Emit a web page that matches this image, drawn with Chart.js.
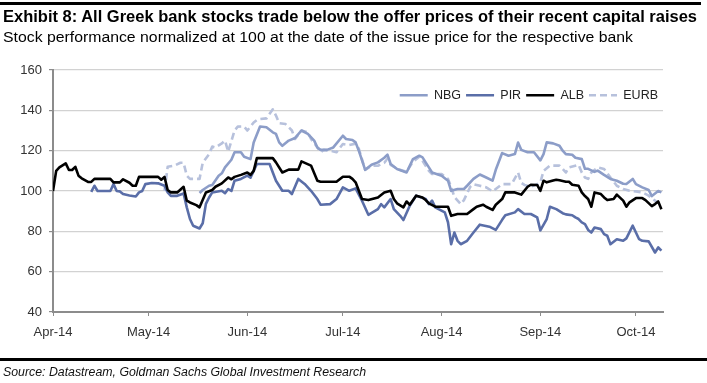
<!DOCTYPE html>
<html>
<head>
<meta charset="utf-8">
<script src="https://cdn.jsdelivr.net/npm/chart.js@4.4.1/dist/chart.umd.min.js"></script>
<style>
  html, body { margin: 0; padding: 0; background: #fff; }
  #wrap { position: relative; width: 707px; height: 383px; overflow: hidden; }
  #chart { position: absolute; left: 0; top: 0; }
  .txt { position: absolute; left: 3px; white-space: nowrap; line-height: 1; transform-origin: 0 0;
         font-family: "Liberation Sans Narrow", "Arial Narrow", "Liberation Sans", Arial, sans-serif; color: #000; }
  #title { top: 7.6px; font-size: 17px; font-weight: bold; }
  #subtitle { top: 29px; font-size: 15.5px; }
  #source { top: 366px; font-size: 12px; font-style: italic; color: #111; }
  .rule { position: absolute; left: 0; background: #000; }
</style>
</head>
<body>
<div id="wrap">
  <canvas id="chart" width="707" height="383"></canvas>
  <div class="rule" style="top:2px;width:701px;height:3px;"></div>
  <div id="title" class="txt" data-w="694">Exhibit 8: All Greek bank stocks trade below the offer prices of their recent capital raises</div>
  <div id="subtitle" class="txt" data-w="630">Stock performance normalized at 100 at the date of the issue price for the respective bank</div>
  <div class="rule" style="top:358px;width:707px;height:3px;"></div>
  <div id="source" class="txt" data-w="363">Source: Datastream, Goldman Sachs Global Investment Research</div>
</div>
<script>
// ---- Data (x = days since 1 Apr 2014) ----
const monthLabels = ['Apr-14', 'May-14', 'Jun-14', 'Jul-14', 'Aug-14', 'Sep-14', 'Oct-14'];
const monthStartDays = [0, 30, 61, 91, 122, 153, 183];

const nbgDays = [46,47,49,50,52,53,54,56,57,59,60,62,63,64,65,67,69,70,71,72,74,76,78,80,82,83,84,86,88,91,92,94,95,96,98,100,102,104,105,106,108,111,113,115,116,118,119,122,124,125,127,129,130,132,134,136,138,139,141,143,145,146,147,149,151,153,154,155,157,159,160,161,163,164,166,167,168,170,171,173,175,177,179,180,182,183,185,187,188,190,191];
const nbgValues = [99,100.5,102.6,103,107.6,108.8,111.7,115.5,119.2,119.2,117,115.8,124,128,132,131.6,129.1,128.3,124.1,122.4,125,126.3,130,128.3,125,121.6,120.4,120.4,121.6,127.4,125.8,125.3,124.1,120,110.5,113,114.2,116.5,118,113.4,110.9,109.2,115.8,117.5,116.7,111.7,109.2,107.6,105.1,100.1,101,101,102.6,106,108.2,106.7,105.1,110.5,118.8,117.5,118.3,124,120.4,119.2,119.2,115.2,118.3,124.1,123.6,122.4,120,118.3,118,116.5,115.8,111,111,109.5,110.1,108,106,105.1,103.6,103.5,106,103.4,101.8,100.5,97.5,100,99.3];

const pirDays = [12,13,14,18,19,20,21,22,24,26,27,28,29,31,33,35,36,37,39,41,42,43,44,46,47,48,49,50,53,54,55,56,57,59,61,62,63,64,68,69,70,72,74,75,77,79,81,83,84,87,89,91,93,95,97,99,102,103,104,106,107,109,110,112,114,117,118,119,120,123,124,125,126,127,128,130,132,134,137,139,141,142,145,146,148,150,152,153,155,156,158,160,161,163,164,165,166,167,168,169,170,172,173,174,175,177,179,180,182,183,184,185,187,189,190,191];
const pirValues = [99.6,102.6,100,100,103.4,100,99.8,98.5,97.8,97.3,99.3,100,103.4,104,103.8,102.6,99.3,97.6,97.6,98.8,91.9,86.1,82.8,81.4,84,93.6,96.8,99.3,100.1,98.9,101,100,105.1,106,107.6,106.6,110,113.4,113.4,109.2,105.1,100.1,100.1,98.5,106,103.5,100.1,96,93.2,93.5,96,101.8,100.1,101.3,95.2,88.2,91,93.5,91.9,96,91,87.7,85.6,92.7,97.7,96,93.5,95.2,91.9,89.4,84.5,73.6,79.4,75.3,73.6,75.3,79.4,83.3,82.3,80.7,85.7,88,89.4,91,88.6,88.6,86.9,80.5,86.1,92.2,91,89,88.4,88,86.9,86.1,84.4,83.6,80.7,79.4,81.9,81.1,78.6,77.8,73.6,76.1,75.3,76.5,82.8,79.4,76.1,75.3,75,69.5,72,70.4];

const albDays = [0,1,2,4,5,6,7,8,9,11,12,13,18,19,21,22,24,25,26,27,33,34,35,36,37,39,41,42,43,45,46,48,50,51,53,55,56,57,59,61,62,63,64,69,70,72,74,77,78,81,83,84,89,91,93,94,95,97,99,102,104,106,107,108,110,111,112,114,116,117,118,120,124,125,127,130,132,133,135,136,138,139,141,142,145,147,149,150,152,153,154,155,157,158,159,161,162,163,165,166,167,168,169,170,172,173,174,176,177,179,180,181,183,185,186,188,189,190,191];
const albValues = [100,110,111.7,113.7,110.4,110.4,112,107.6,106.3,104.5,104.5,106,106,104.3,104.3,105.8,104.1,102.6,102.6,107,107,105.6,107,100.5,99.3,99.3,102.1,95.2,94.3,93,91.9,99.3,100.5,102.1,103.8,106.7,105.8,107,108,109.2,108,110,116.3,116.3,114.2,109.2,110.6,110.6,114.7,112.6,105.1,104.6,104.6,107.1,107.1,106,104.3,96,95.5,96.8,99.3,100.1,96,93.9,91.9,94.8,93.2,97.7,96.8,95.5,93.9,92.2,92.2,87.7,88.6,88.6,91,92.2,93.2,92.2,90.6,93.2,96,99.3,99.3,98.2,102.1,103.1,103,100.1,105.1,104.3,105.2,105.6,105.3,104.6,104.6,103.1,102.6,99.3,97.5,96,92.2,99.3,98.5,96.8,95.5,96,98.2,95.2,92.2,94.4,96.5,96.5,95.5,92.5,93.5,94.8,91];

const eurbDays = [35,36,38,40,41,42,43,46,47,49,50,51,53,54,55,57,58,60,61,62,63,64,65,67,69,70,71,73,75,76,78,80,81,83,84,85,87,89,91,93,95,96,98,100,102,104,105,106,108,111,113,115,116,118,119,122,124,125,126,128,129,131,132,134,136,138,139,141,144,146,147,148,150,152,153,154,156,159,160,161,162,165,166,167,168,169,171,173,175,177,179,181,183,185,187,189,190];
const eurbValues = [100,112,112.5,114,114,107.6,106,106,114,118.3,122,121.6,123.6,125,119.5,130,131.9,132,130,131.9,134,135.2,135.7,136,140.5,137.4,133.6,133.2,130,125.8,130,129.1,125.8,121.6,119.2,120.4,120,119.2,123.3,122.8,123.5,121,110.5,112.5,112.5,114,116,113,111,109.5,114.5,117,115,110,108.4,108.4,106,102,97,93.5,95.5,102.1,103.4,102.6,101.8,99.8,101,103.4,103.4,109.2,104,103,102.1,103.4,104.3,110,112.6,112.6,111,109.2,111.7,113,109.2,106.7,106,109.2,111.7,110.9,106.7,102.6,101,100.1,99.8,99.3,97.7,95.2,94.4];

const seriesNames = ['NBG', 'PIR', 'ALB', 'EURB'];

const FONT = '"Liberation Sans Narrow", "Arial Narrow", "Liberation Sans", Arial, sans-serif';
const AXIS_GREY = '#8c8c8c';

function pts(days, vals) { return days.map((d, i) => ({ x: d, y: vals[i] })); }

// The legend sits inside the plot area in the reference: lay it out on top, then move it down.
const legendShift = {
  id: 'legendShift',
  afterLayout(chart) {
    const lg = chart.legend;
    if (lg) { const h = lg.bottom - lg.top; lg.top = 84; lg.bottom = lg.top + h; }
  }
};

new Chart(document.getElementById('chart'), {
  type: 'line',
  data: {
    datasets: [
      { label: seriesNames[0], data: pts(nbgDays, nbgValues), borderColor: '#8c9dc8', borderWidth: 2.6, order: 2 },
      { label: seriesNames[1], data: pts(pirDays, pirValues), borderColor: '#5a6ea8', borderWidth: 2.6, order: 1 },
      { label: seriesNames[2], data: pts(albDays, albValues), borderColor: '#000000', borderWidth: 2.6, order: 0 },
      { label: seriesNames[3], data: pts(eurbDays, eurbValues), borderColor: '#b7c1dc', borderWidth: 2.6, borderDash: [7, 4], order: 3 }
    ]
  },
  options: {
    responsive: false,
    animation: false,
    devicePixelRatio: 1,
    elements: { point: { radius: 0 }, line: { tension: 0, borderJoinStyle: 'round', fill: false } },
    layout: { padding: { top: 42.5, right: 44, left: 0, bottom: 0 } },
    plugins: {
      title: { display: false },
      tooltip: { enabled: false },
      legend: {
        position: 'top',
        align: 'end',
        labels: {
          usePointStyle: true,
          pointStyle: 'line',
          pointStyleWidth: 28,
          boxWidth: 28,
          padding: 5,
          color: '#222',
          font: { family: FONT, size: 12.5 },
          sort: (a, b) => a.datasetIndex - b.datasetIndex,
          generateLabels(chart) {
            const items = Chart.defaults.plugins.legend.labels.generateLabels(chart);
            items.forEach(it => {
              const ds = chart.data.datasets[it.datasetIndex];
              it.lineDash = ds.borderDash || [];
              it.lineWidth = ds.borderWidth;
              it.strokeStyle = ds.borderColor;
            });
            return items;
          }
        }
      }
    },
    scales: {
      x: {
        type: 'linear',
        min: 0,
        max: 191.5,
        afterFit(scale) { scale.height = 71; },
        afterBuildTicks(scale) { scale.ticks = monthStartDays.map(v => ({ value: v })); },
        ticks: {
          autoSkip: false, maxRotation: 0, padding: 9,
          color: '#333', font: { family: FONT, size: 13 },
          callback: (v) => { const i = monthStartDays.indexOf(v); return i >= 0 ? monthLabels[i] : ''; }
        },
        grid: { drawOnChartArea: false, drawTicks: true, tickLength: 4, tickColor: AXIS_GREY, color: AXIS_GREY },
        border: { color: AXIS_GREY, width: 2 }
      },
      y: {
        min: 40,
        max: 160,
        afterFit(scale) { scale.width = 53; },
        ticks: { stepSize: 20, padding: 7, color: '#333', font: { family: FONT, size: 13 } },
        grid: { color: '#d2d2d2', lineWidth: 1.2, tickLength: 4, tickColor: AXIS_GREY },
        border: { color: AXIS_GREY, width: 2 }
      }
    }
  },
  plugins: [legendShift]
});

// fit header/footer text to the reference widths
document.querySelectorAll('.txt').forEach(el => {
  const target = parseFloat(el.dataset.w);
  const w = el.getBoundingClientRect().width;
  if (w > 0) el.style.transform = 'scaleX(' + (target / w) + ')';
});
</script>
</body>
</html>
